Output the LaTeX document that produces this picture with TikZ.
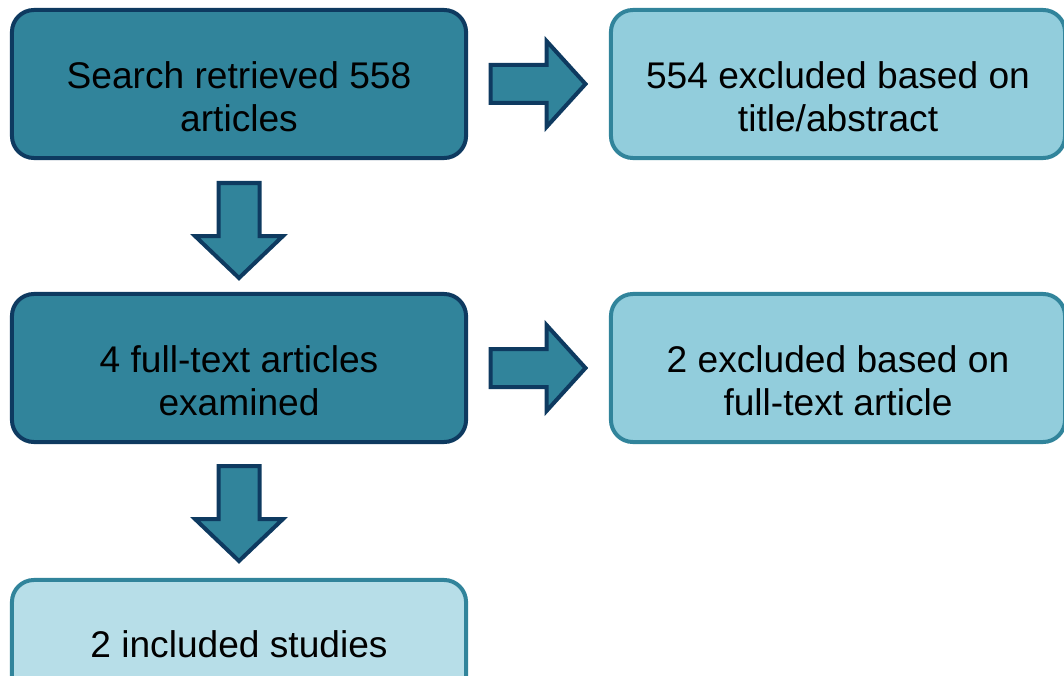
\documentclass[tikz,border=0pt]{standalone}
\usepackage{fontspec}
\setmainfont{Liberation Sans}
\usetikzlibrary{calc}

\definecolor{navy}{RGB}{14,58,96}
\definecolor{teal}{RGB}{49,132,155}
\definecolor{aqua}{RGB}{146,205,220}
\definecolor{pale}{RGB}{183,222,232}

\tikzset{
  box/.style={rounded corners=0.55cm, line width=0.1cm,
    minimum width=11.35cm, minimum height=3.7cm},
  darkbox/.style={box, draw=navy, fill=teal},
  lightbox/.style={box, draw=teal, fill=aqua},
  palebox/.style={box, draw=teal, fill=pale},
  txt/.style={align=center, font=\fontsize{26.4}{30.5}\selectfont},
  blockarr/.style={draw=navy, fill=teal, line width=0.1cm},
  rarr/.pic={\path[blockarr] (-48,-19) -- (8,-19) -- (8,-43) -- (47,0)
    -- (8,43) -- (8,19) -- (-48,19) -- cycle;},
  darr/.pic={\path[blockarr] (-20.5,-48) -- (20.5,-48) -- (20.5,5) -- (44,5)
    -- (0,47) -- (-44,5) -- (-20.5,5) -- (-20.5,-48) -- cycle;},
}

\begin{document}
\begin{tikzpicture}[x=0.025cm, y=-0.025cm]
  \useasboundingbox (0,0) rectangle (1064,676);

  % boxes
  \node[darkbox] (search) at (239,84) {};
  \node[lightbox] (excl1) at (838,84) {};
  \node[darkbox] (full) at (239,368) {};
  \node[lightbox] (excl2) at (838,368) {};
  \node[palebox] (incl) at (239,654) {};

  % texts
  \node[txt] (searchtxt) at ($(search.center)+(0,13)$) {Search retrieved 558\\articles};
  \node[txt] (excl1txt) at ($(excl1.center)+(0,13)$) {554 excluded based on\\title/abstract};
  \node[txt] (fulltxt) at ($(full.center)+(0,13)$) {4 full-text articles\\examined};
  \node[txt] (excl2txt) at ($(excl2.center)+(0,13)$) {2 excluded based on\\full-text article};
  \node[txt] (incltxt) at ($(incl.north)+(0,66)$) {2 included studies};

  % block arrows
  \pic at ($(search.east)!0.5!(excl1.west)$) {rarr};
  \pic at ($(full.east)!0.5!(excl2.west)$) {rarr};
  \pic at ($(search.south)!0.5!(full.north)+(0,5)$) {darr};
  \pic at ($(full.south)!0.5!(incl.north)+(0,3)$) {darr};
\end{tikzpicture}
\end{document}
